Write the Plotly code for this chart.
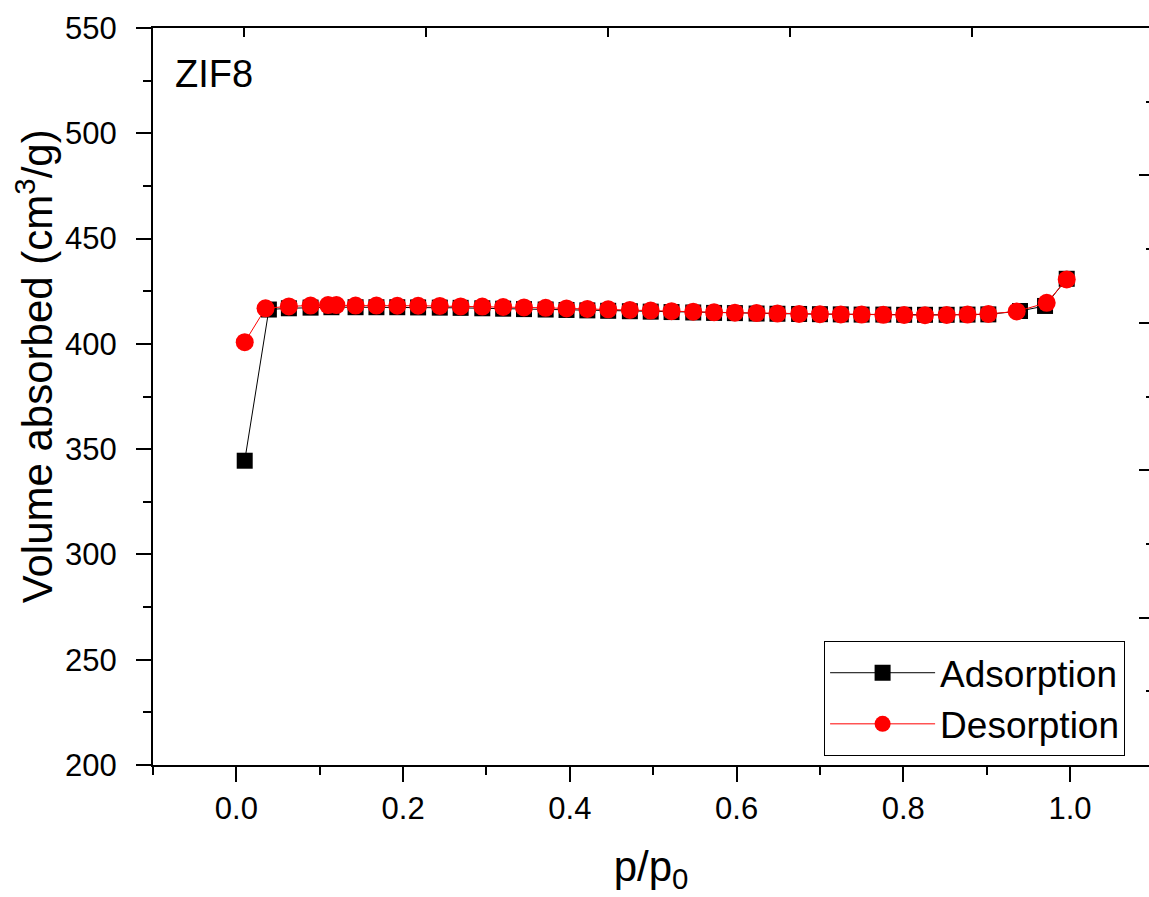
import plotly.graph_objects as go

# Adsorption branch (p/p0, volume cm3/g)
p_ads = [0.010, 0.039, 0.063, 0.089, 0.114, 0.143, 0.168, 0.193, 0.218, 0.244,
         0.269, 0.295, 0.320, 0.345, 0.371, 0.396, 0.421, 0.446, 0.472, 0.497,
         0.522, 0.548, 0.573, 0.598, 0.624, 0.649, 0.675, 0.700, 0.725, 0.750,
         0.776, 0.801, 0.826, 0.852, 0.877, 0.902, 0.940, 0.970, 0.996]
v_ads = [344.5, 416.3, 416.9, 417.2, 417.4, 417.4, 417.4, 417.4, 417.3, 417.2,
         417.1, 416.9, 416.7, 416.5, 416.3, 416.1, 415.9, 415.7, 415.5, 415.3,
         415.1, 414.9, 414.7, 414.6, 414.4, 414.3, 414.2, 414.1, 414.0, 413.9,
         413.9, 413.8, 413.8, 413.8, 413.9, 414.0, 415.6, 418.0, 430.9]

# Desorption branch
p_des = [0.996, 0.972, 0.936, 0.902, 0.877, 0.852, 0.826, 0.801, 0.776, 0.750,
         0.725, 0.700, 0.675, 0.649, 0.624, 0.598, 0.573, 0.548, 0.522, 0.497,
         0.472, 0.446, 0.421, 0.396, 0.371, 0.345, 0.320, 0.295, 0.269, 0.244,
         0.218, 0.193, 0.168, 0.143, 0.120, 0.110, 0.089, 0.063, 0.035, 0.010]
v_des = [430.6, 419.5, 415.4, 414.2, 413.9, 413.7, 413.6, 413.7, 413.8, 413.9,
         414.0, 414.1, 414.2, 414.4, 414.6, 414.8, 415.0, 415.3, 415.5, 415.8,
         416.1, 416.4, 416.6, 416.8, 417.1, 417.3, 417.5, 417.7, 417.8, 418.0,
         418.1, 418.1, 418.2, 418.2, 418.4, 418.4, 418.2, 417.8, 416.9, 400.8]

FONT = "Arial, Liberation Sans, sans-serif"

fig = go.Figure()
fig.add_trace(go.Scatter(
    x=p_ads, y=v_ads, name="Adsorption", mode="lines+markers",
    line=dict(color="black", width=1),
    marker=dict(symbol="square", size=16, color="black"),
))
fig.add_trace(go.Scatter(
    x=p_des, y=v_des, name="Desorption", mode="lines+markers",
    line=dict(color="red", width=1),
    marker=dict(symbol="circle", size=18, color="red"),
))
# invisible helper traces to activate the mirrored (scale-only) axes
fig.add_trace(go.Scatter(x=[None], y=[None], xaxis="x2", yaxis="y", showlegend=False, hoverinfo="skip"))
fig.add_trace(go.Scatter(x=[None], y=[None], xaxis="x", yaxis="y2", showlegend=False, hoverinfo="skip"))

fig.update_layout(
    width=1149, height=897,
    margin=dict(l=153, r=0, t=28, b=132),
    paper_bgcolor="white", plot_bgcolor="white",
    font=dict(family=FONT, color="black", size=31),
    showlegend=True,
    legend=dict(
        x=0.976, y=0.168, xanchor="right", yanchor="top",
        bordercolor="black", borderwidth=1, bgcolor="white",
        font=dict(size=37, family=FONT), itemwidth=105,
        tracegroupgap=0,
    ),
    xaxis=dict(
        range=[-0.1, 1.0947], showgrid=False, zeroline=False,
        showline=True, linecolor="black", linewidth=2,
        ticks="outside", ticklen=15, tickwidth=2, tickcolor="black",
        tick0=0, dtick=0.2, tickformat=".1f",
        minor=dict(dtick=0.1, tick0=0, ticks="outside", ticklen=8, tickwidth=2, tickcolor="black", showgrid=False),
        tickfont=dict(size=31), ticklabelstandoff=0,
        title=dict(text="p/p<sub>0</sub>", font=dict(size=42), standoff=26),
    ),
    xaxis2=dict(
        overlaying="x", side="top", range=[-0.5, 4.974], showgrid=False, zeroline=False,
        showline=True, linecolor="black", linewidth=2,
        ticks="inside", ticklen=9, tickwidth=2, tickcolor="black",
        tick0=0, dtick=1, showticklabels=False,
    ),
    yaxis=dict(
        range=[200, 550], showgrid=False, zeroline=False,
        showline=True, linecolor="black", linewidth=2,
        ticks="outside", ticklen=15, tickwidth=2, tickcolor="black",
        tick0=200, dtick=50,
        minor=dict(dtick=25, ticks="outside", ticklen=8, tickwidth=2, tickcolor="black", showgrid=False),
        tickfont=dict(size=31), ticklabelstandoff=13,
    ),
    yaxis2=dict(
        overlaying="y", side="right", range=[0, 5], showgrid=False, zeroline=False,
        showline=False, ticks="inside", ticklen=10, tickwidth=2, tickcolor="black",
        tick0=0, dtick=1, showticklabels=False,
        minor=dict(dtick=0.5, ticks="inside", ticklen=3, tickwidth=2, tickcolor="black", showgrid=False),
    ),
    annotations=[
        dict(text="Volume absorbed (cm<sup>3</sup>/g)", xref="paper", yref="paper",
             x=-0.1185, y=0.541, xanchor="center", yanchor="middle", textangle=-90,
             showarrow=False, font=dict(size=42, family=FONT)),
        dict(text="ZIF8", xref="paper", yref="paper", x=0.020, y=0.9376,
             xanchor="left", yanchor="middle", showarrow=False,
             font=dict(size=38, family=FONT)),
    ],
)

fig.write_html("out.html")
